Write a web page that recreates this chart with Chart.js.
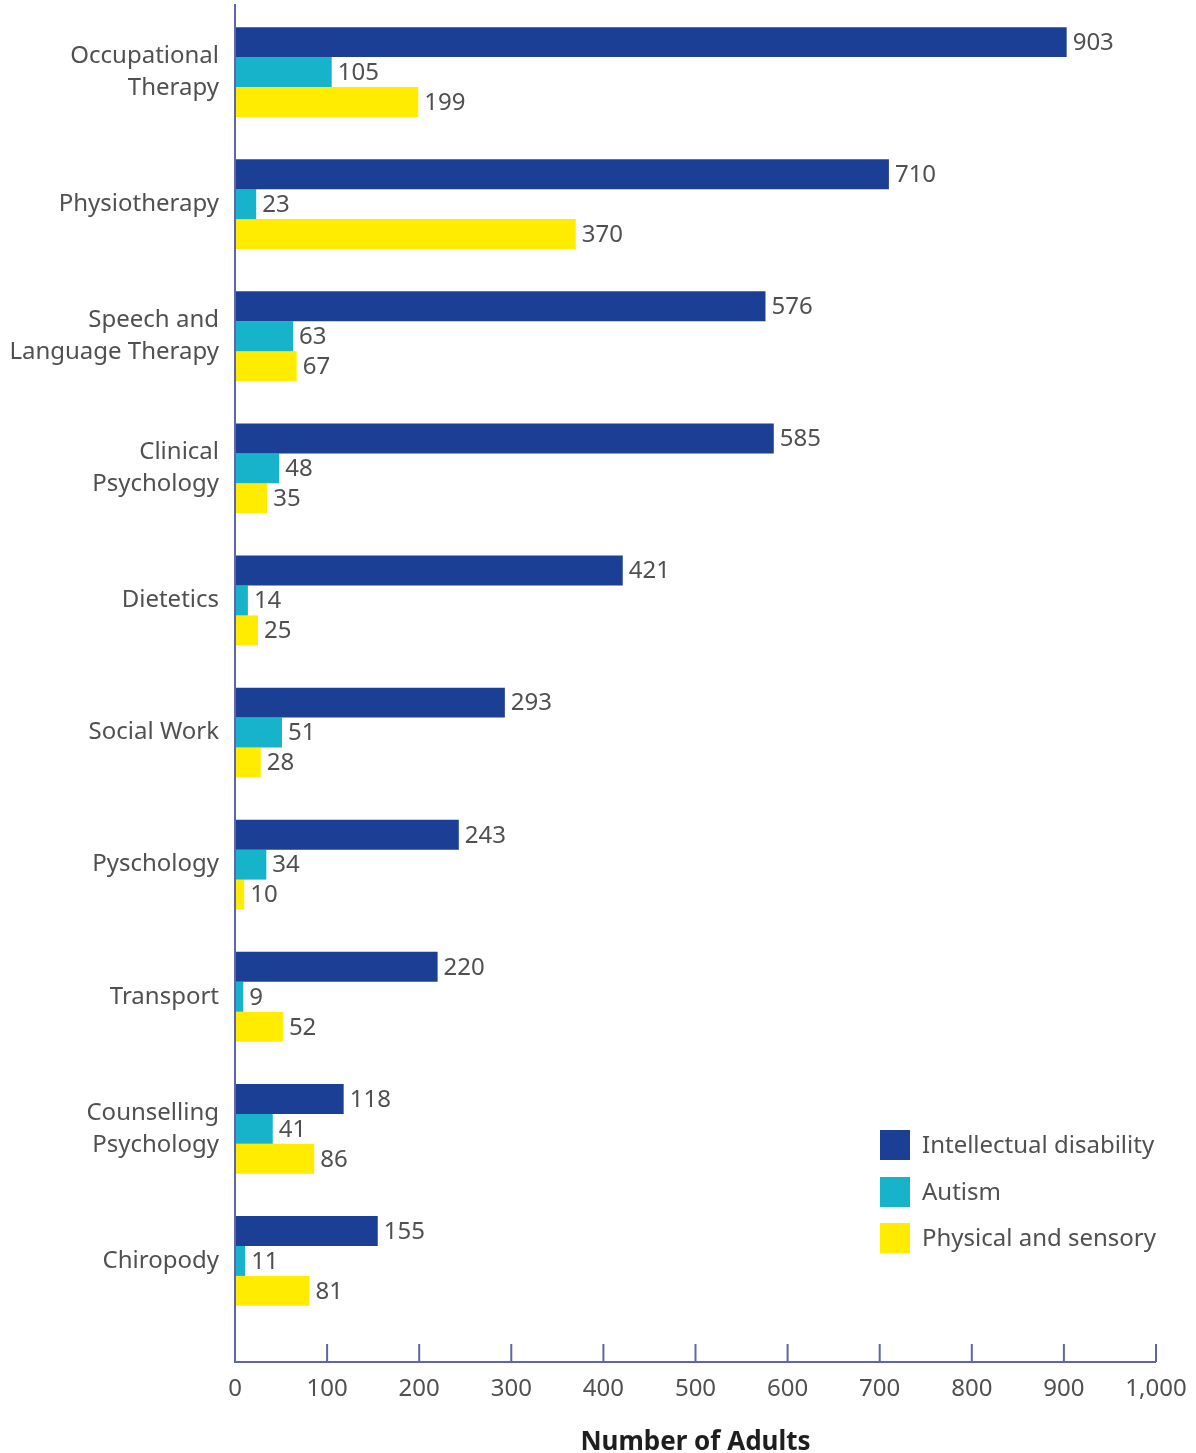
<!DOCTYPE html>
<html>
<head>
<meta charset="utf-8">
<script src="https://cdn.jsdelivr.net/npm/chart.js@4"></script>
<style>
  body { margin: 0; background: #fff; }
  canvas { display: block; }
</style>
</head>
<body>
<canvas id="barChart" width="1196" height="1453"></canvas>
<script>
// Data
const categories = [
    ['Occupational', 'Therapy'],
    'Physiotherapy',
    ['Speech and', 'Language Therapy'],
    ['Clinical', 'Psychology'],
    'Dietetics',
    'Social Work',
    'Pyschology',
    'Transport',
    ['Counselling', 'Psychology'],
    'Chiropody'
];
const seriesNames = ['Intellectual disability', 'Autism', 'Physical and sensory'];
const intellectual = [903, 710, 576, 585, 421, 293, 243, 220, 118, 155];
const autism = [105, 23, 63, 48, 14, 51, 34, 9, 41, 11];
const physical = [199, 370, 67, 35, 25, 28, 10, 52, 86, 81];
const xTicks = [0, 100, 200, 300, 400, 500, 600, 700, 800, 900, 1000];

const colors = ['#1c3f96', '#17b3cb', '#ffec00'];
const textColor = '#505050';
const axisColor = '#5f66a8';

Chart.defaults.font.family = "'Noto Sans', sans-serif";
Chart.defaults.font.size = 24;
Chart.defaults.color = textColor;

// axis lines, inward ticks, value labels and legend
const decorations = {
    id: 'decorations',
    afterDraw(chart) {
        const { ctx, chartArea } = chart;
        const x = chart.scales.x;
        const axisY = chartArea.bottom + 35;
        ctx.save();
        ctx.strokeStyle = axisColor;
        ctx.lineWidth = 2;
        ctx.beginPath();
        ctx.moveTo(x.left, chartArea.top - 2);
        ctx.lineTo(x.left, axisY);
        ctx.lineTo(x.right, axisY);
        x.ticks.forEach(t => {
            if (t.value === 0) return;
            const px = x.getPixelForValue(t.value);
            ctx.moveTo(px, axisY);
            ctx.lineTo(px, axisY - 18);
        });
        ctx.stroke();

        // value labels
        ctx.font = "24px 'Noto Sans', sans-serif";
        ctx.fillStyle = textColor;
        ctx.textAlign = 'left';
        ctx.textBaseline = 'middle';
        chart.data.datasets.forEach((ds, i) => {
            chart.getDatasetMeta(i).data.forEach((bar, j) => {
                ctx.fillText(ds.data[j], bar.x + 6, bar.y + 1);
            });
        });

        // legend
        const legendX = 880;
        const rows = [1145, 1192, 1238];
        chart.data.datasets.forEach((ds, i) => {
            ctx.fillStyle = ds.backgroundColor;
            ctx.fillRect(legendX, rows[i] - 15, 30, 30);
            ctx.fillStyle = textColor;
            ctx.fillText(ds.label, legendX + 42, rows[i] + 1);
        });
        ctx.restore();
    }
};

const data = {
    labels: categories,
    datasets: [intellectual, autism, physical].map((values, i) => ({
        label: seriesNames[i],
        data: values,
        backgroundColor: colors[i],
        borderWidth: 0,
        barPercentage: 1.0,
        categoryPercentage: 0.68
    }))
};

const options = {
    indexAxis: 'y',
    responsive: false,
    animation: false,
    layout: {
        padding: { top: 6, right: 40, bottom: 0, left: 0 }
    },
    scales: {
        x: {
            min: 0,
            max: 1000,
            afterBuildTicks(scale) {
                scale.ticks = xTicks.map(v => ({ value: v }));
            },
            afterFit(scale) {
                scale.height = 126;
                scale.paddingLeft = 0;
                scale.paddingRight = 0;
            },
            grid: { display: false, drawTicks: false },
            border: { display: false },
            ticks: {
                padding: 48,
                color: textColor,
                callback: v => v.toLocaleString('en-US')
            },
            title: {
                display: true,
                text: 'Number of Adults',
                color: '#1e1e1e',
                font: { size: 26, weight: 'bold' },
                padding: { top: 0, bottom: -5 }
            }
        },
        y: {
            afterFit(scale) {
                scale.width = 235;
                scale.paddingTop = 0;
                scale.paddingBottom = 0;
            },
            grid: { display: false, drawTicks: false },
            border: { display: false },
            ticks: {
                padding: 16,
                color: textColor,
                font: { size: 24, lineHeight: 1.34 }
            }
        }
    },
    plugins: {
        legend: { display: false },
        tooltip: { enabled: false }
    }
};

new Chart(document.getElementById('barChart'), {
    type: 'bar',
    data: data,
    options: options,
    plugins: [decorations]
});
</script>
</body>
</html>
